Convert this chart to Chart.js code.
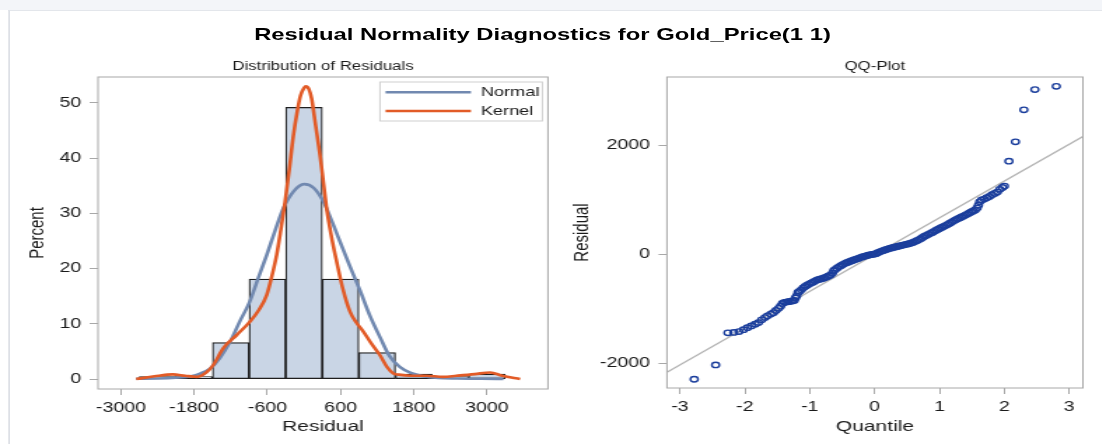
<!DOCTYPE html>
<html>
<head>
<meta charset="utf-8">
<script src="https://cdn.jsdelivr.net/npm/chart.js@4.4.1/dist/chart.umd.min.js"></script>
<style>
  html, body { margin: 0; padding: 0; background: #fff; }
  body { width: 1102px; height: 444px; overflow: hidden; position: relative; }
  #band { position: absolute; left: 0; top: 0; width: 1102px; height: 10px; background: #f3f5f9; }
  #stage { position: absolute; left: 0; top: 0; width: 787px; height: 444px; transform: scaleX(1.4); transform-origin: 0 0; font-family: 'Liberation Sans', Arial, sans-serif; }
  #frame { position: absolute; left: 5.5px; top: 10px; width: 800px; height: 440px; border-left: 1px solid #d5d9e0; border-top: 1px solid #e3e6eb; }
  #title { position: absolute; left: 0; top: 24px; width: 775px; text-align: center; font-weight: bold; font-size: 17px; line-height: 22px; color: #000; }
  canvas { position: absolute; }
  #hist { left: 0; top: 55px; }
  #qq { left: 400px; top: 55px; }
</style>
</head>
<body>
<div id="band"></div>
<div id="stage">
  <div id="frame"></div>
  <div id="title">Residual Normality Diagnostics for Gold_Price(1 1)</div>
  <canvas id="hist" width="400" height="389" style="width:400px;height:389px"></canvas>
  <canvas id="qq" width="387" height="389" style="width:387px;height:389px"></canvas>
</div>
<script>
// histogram: bin centres (width 600) and percent per bin
const binCenters = [-2400, -1800, -1200, -600, 0, 600, 1200, 1800, 2400, 3000];
const binPercent = [0.45, 0.45, 6.6, 18.1, 49.2, 18.1, 4.8, 0.9, 0.45, 0.9];

// density curves
const normalX = [-2750, -2400, -2100, -1850, -1700, -1540, -1380, -1210, -1050, -890, -750, -610, -470, -340, -170, 0, 160, 320, 460, 590, 750, 920, 1080, 1250, 1400, 1570, 1750, 1960, 2200, 2500, 2900, 3270];
const normalY = [0.05, 0.1, 0.25, 0.5, 1.0, 1.9, 3.8, 6.8, 10.5, 14.0, 18.3, 22.5, 27.0, 30.9, 34.0, 35.3, 34.6, 32.1, 28.5, 24.9, 20.5, 16.0, 11.5, 7.5, 4.2, 2.2, 1.1, 0.5, 0.2, 0.1, 0.05, 0.02];
const kernelX = [-2750, -2450, -2150, -1950, -1750, -1600, -1490, -1323, -1100, -886, -740, -612, -530, -448, -380, -311, -240, -175, -110, -55, 0, 32, 80, 125, 190, 262, 320, 371, 450, 535, 640, 754, 860, 973, 1100, 1246, 1360, 1465, 1550, 1750, 2000, 2282, 2500, 2800, 3052, 3250, 3544];
const kernelY = [0, 0.5, 0.85, 0.6, 0.4, 1.2, 2.5, 5.6, 8.0, 10.4, 12.5, 15.2, 18.5, 22.5, 27.0, 32.0, 38.0, 44.0, 48.5, 51.4, 52.7, 53.0, 52.5, 50.8, 46.0, 40.6, 35.5, 30.9, 25.8, 21.3, 16.2, 12.2, 10.2, 8.6, 6.5, 4.3, 2.2, 1.0, 0.8, 0.6, 0.6, 0.4, 0.6, 0.9, 1.2, 0.6, 0];

const residualTicks = [-3000, -1800, -600, 600, 1800, 3000];
const percentTicks = [0, 10, 20, 30, 40, 50];

// QQ plot
const qqQuantile = [-2.78, -2.45, -2.26, -2.17, -2.09, -2.02, -1.96, -1.90, -1.84, -1.79, -1.74, -1.69, -1.65, -1.60, -1.56, -1.52, -1.48, -1.45, -1.42, -1.39, -1.36, -1.33, -1.30, -1.27, -1.24, -1.22, -1.20, -1.18, -1.16, -1.13, -1.10, -1.07, -1.04, -1.01, -0.98, -0.95, -0.92, -0.89, -0.86, -0.83, -0.80, -0.77, -0.74, -0.71, -0.68, -0.65, -0.63, -0.61, -0.58, -0.55, -0.52, -0.49, -0.46, -0.43, -0.40, -0.37, -0.34, -0.31, -0.28, -0.25, -0.22, -0.19, -0.16, -0.13, -0.10, -0.07, -0.04, -0.01, 0.02, 0.05, 0.08, 0.11, 0.14, 0.17, 0.20, 0.23, 0.26, 0.29, 0.32, 0.35, 0.38, 0.41, 0.44, 0.47, 0.50, 0.53, 0.56, 0.59, 0.62, 0.65, 0.68, 0.71, 0.74, 0.77, 0.80, 0.83, 0.86, 0.89, 0.92, 0.95, 0.98, 1.01, 1.04, 1.07, 1.10, 1.13, 1.16, 1.19, 1.22, 1.25, 1.28, 1.31, 1.34, 1.37, 1.40, 1.43, 1.46, 1.49, 1.52, 1.55, 1.58, 1.60, 1.62, 1.65, 1.69, 1.73, 1.77, 1.81, 1.85, 1.89, 1.93, 1.97, 2.00, 2.07, 2.17, 2.30, 2.47, 2.80];
const qqResidual = [-2289, -2027, -1438, -1432, -1415, -1380, -1345, -1312, -1280, -1250, -1200, -1160, -1128, -1095, -1069, -1030, -990, -950, -900, -880, -875, -868, -862, -856, -845, -800, -760, -700, -680, -650, -615, -590, -565, -545, -528, -510, -490, -472, -460, -452, -443, -430, -415, -398, -380, -345, -300, -280, -255, -230, -208, -188, -170, -153, -140, -126, -112, -100, -88, -75, -60, -48, -38, -28, -18, -10, -4, 2, 12, 28, 45, 58, 70, 84, 96, 107, 116, 126, 135, 144, 152, 160, 168, 177, 186, 195, 205, 218, 232, 248, 264, 285, 308, 330, 348, 365, 383, 400, 420, 440, 460, 477, 495, 512, 530, 548, 568, 590, 612, 632, 650, 666, 683, 700, 718, 737, 756, 775, 793, 811, 850, 900, 960, 995, 1012, 1035, 1060, 1090, 1115, 1140, 1190, 1225, 1250, 1705, 2060, 2646, 3016, 3077];
const refLineQ = [-3.2, 3.25];
const refLineR = [-2160, 2185];
const quantileTicks = [-3, -2, -1, 0, 1, 2, 3];
const qqResidualTicks = [-2000, 0, 2000];

Chart.defaults.font.family = "'Liberation Sans', Arial, sans-serif";
Chart.defaults.color = '#1a1a1a';
Chart.defaults.animation = false;

const toPoints = (xs, ys) => xs.map((x, i) => ({ x: x, y: ys[i] }));
const fixedTicks = (list) => (axis) => { axis.ticks = list.map((v) => ({ value: v })); };

// box around the plot area
const framePlugin = {
  id: 'frame',
  afterDatasetsDraw(chart) {
    const { ctx, chartArea: a } = chart;
    ctx.save();
    ctx.strokeStyle = '#a8a8a8';
    ctx.lineWidth = 1;
    ctx.strokeRect(a.left, a.top, a.right - a.left, a.bottom - a.top);
    ctx.restore();
  },
};

// legend drawn inside the top right corner of the plot
const insideLegend = {
  id: 'insideLegend',
  afterDraw(chart) {
    const { ctx, chartArea: a } = chart;
    const items = chart.data.datasets.filter((d) => d.type === 'line');
    const w = 116, h = 39;
    const x0 = a.right - 4 - w, y0 = a.top + 5;
    ctx.save();
    ctx.fillStyle = '#fff';
    ctx.fillRect(x0, y0, w, h);
    ctx.strokeStyle = '#cfcfcf';
    ctx.lineWidth = 1;
    ctx.strokeRect(x0, y0, w, h);
    items.forEach((d, i) => {
      const y = y0 + 10.3 + i * 18.7;
      ctx.strokeStyle = d.borderColor;
      ctx.lineWidth = 2.5;
      ctx.beginPath();
      ctx.moveTo(x0 + 4, y);
      ctx.lineTo(x0 + 65, y);
      ctx.stroke();
      ctx.fillStyle = '#1a1a1a';
      ctx.font = "13px 'Liberation Sans', Arial, sans-serif";
      ctx.textBaseline = 'middle';
      ctx.fillText(d.label, x0 + 72, y);
    });
    ctx.restore();
  },
};

const axisCommon = (ticksList, title) => ({
  afterBuildTicks: fixedTicks(ticksList),
  ticks: { font: { size: 14 }, color: '#1a1a1a', maxRotation: 0, autoSkip: false, callback: (v) => String(v) },
  grid: { drawOnChartArea: false, tickLength: 6, color: '#a8a8a8', offset: false },
  border: { display: false },
  title: { display: true, text: title, font: { size: 15 }, color: '#1a1a1a' },
});

const subTitle = (text) => ({
  display: true,
  text: text,
  fullSize: false,
  font: { size: 12, weight: 'normal' },
  color: '#1a1a1a',
  padding: { top: 4, bottom: 3.6 },
});

function drawHistogram() {
  const x = axisCommon(residualTicks, 'Residual');
  x.type = 'linear';
  x.min = -3377;
  x.max = 4000;
  x.offset = false;
  x.ticks.padding = 4.6;
  x.title.padding = { top: 0, bottom: 8 };
  x.afterFit = (axis) => { axis.height = 55; };

  const y = axisCommon(percentTicks, 'Percent');
  y.min = -1.8;
  y.max = 54.7;
  y.ticks.padding = 6;
  y.title.padding = { top: 18, bottom: 0 };
  y.afterFit = (axis) => { axis.width = 70; };

  new Chart(document.getElementById('hist'), {
    type: 'bar',
    data: {
      datasets: [
        {
          type: 'line', label: 'Normal', data: toPoints(normalX, normalY),
          borderColor: '#7189b0', borderWidth: 2.6, pointRadius: 0,
          cubicInterpolationMode: 'monotone', order: 1,
        },
        {
          type: 'line', label: 'Kernel', data: toPoints(kernelX, kernelY),
          borderColor: '#e25b27', borderWidth: 2.6, pointRadius: 0,
          cubicInterpolationMode: 'monotone', order: 0,
        },
        {
          type: 'bar', label: 'Residuals', data: toPoints(binCenters, binPercent),
          backgroundColor: '#c9d5e5', borderColor: '#1e1e1e', borderWidth: 1.2,
          borderSkipped: false, barPercentage: 1, categoryPercentage: 1, order: 2,
        },
      ],
    },
    options: {
      responsive: false,
      layout: { padding: { left: 0, right: 8.6, top: 0, bottom: 0 } },
      scales: { x: x, y: y },
      plugins: {
        title: subTitle('Distribution of Residuals'),
        legend: { display: false },
        tooltip: { enabled: false },
      },
    },
    plugins: [framePlugin, insideLegend],
  });
}

function drawQQ() {
  const x = axisCommon(quantileTicks, 'Quantile');
  x.type = 'linear';
  x.min = -3.2;
  x.max = 3.21;
  x.ticks.padding = 4.6;
  x.title.padding = { top: 0, bottom: 8 };
  x.afterFit = (axis) => { axis.height = 56; };

  const y = axisCommon(qqResidualTicks, 'Residual');
  y.min = -2449;
  y.max = 3247;
  y.ticks.padding = 6;
  y.title.padding = { top: 6.5, bottom: 0 };
  y.afterFit = (axis) => { axis.width = 76.4; };

  new Chart(document.getElementById('qq'), {
    type: 'scatter',
    data: {
      datasets: [
        {
          type: 'line', label: 'Reference', data: toPoints(refLineQ, refLineR),
          borderColor: '#b4b4b4', borderWidth: 1.3, pointRadius: 0, order: 1,
        },
        {
          label: 'Residual', data: toPoints(qqQuantile, qqResidual),
          pointRadius: 2.7, pointBorderWidth: 1.4, borderColor: '#1b3e9c',
          backgroundColor: 'rgba(0,0,0,0)', order: 0,
        },
      ],
    },
    options: {
      responsive: false,
      layout: { padding: { left: 0, right: 13.5, top: 0, bottom: 0 } },
      scales: { x: x, y: y },
      plugins: {
        title: subTitle('QQ-Plot'),
        legend: { display: false },
        tooltip: { enabled: false },
      },
    },
    plugins: [framePlugin],
  });
}

drawHistogram();
drawQQ();
</script>
</body>
</html>
